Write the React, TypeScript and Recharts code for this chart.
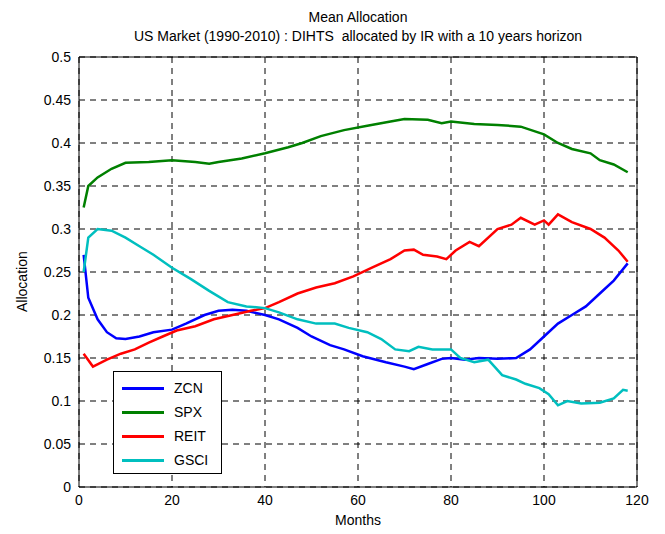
import { LineChart, Line, XAxis, YAxis, CartesianGrid, ReferenceArea } from "recharts";

const spxX = [1, 2, 4, 7, 10, 15, 20, 25, 28, 30, 35, 40, 45, 48, 52, 57, 62, 67, 70, 75, 78, 80, 85, 90, 95, 100, 103, 106, 110, 112, 115, 118];
const spxY = [0.325, 0.35, 0.36, 0.37, 0.377, 0.378, 0.38, 0.378, 0.376, 0.378, 0.382, 0.388, 0.395, 0.4, 0.408, 0.415, 0.42, 0.425, 0.428, 0.427, 0.423, 0.425, 0.422, 0.421, 0.419, 0.41, 0.4, 0.393, 0.388, 0.38, 0.375, 0.366];

const zcnX = [1, 2, 4, 6, 8, 10, 13, 16, 20, 23, 27, 30, 33, 36, 40, 43, 47, 50, 54, 57, 61, 66, 70, 72, 75, 78, 80, 83, 86, 90, 94, 97, 100, 103, 106, 109, 112, 115, 118];
const zcnY = [0.27, 0.22, 0.195, 0.18, 0.173, 0.172, 0.175, 0.18, 0.183, 0.19, 0.2, 0.205, 0.206, 0.205, 0.2, 0.195, 0.185, 0.175, 0.165, 0.16, 0.152, 0.145, 0.14, 0.137, 0.143, 0.149, 0.15, 0.148, 0.15, 0.149, 0.15, 0.16, 0.175, 0.19, 0.2, 0.21, 0.225, 0.24, 0.26];

const reitX = [1, 3, 6, 9, 12, 15, 18, 21, 25, 29, 33, 37, 40, 43, 47, 51, 55, 59, 63, 67, 70, 72, 74, 77, 79, 81, 84, 86, 90, 93, 95, 98, 100, 101, 103, 106, 110, 113, 116, 118];
const reitY = [0.155, 0.14, 0.148, 0.155, 0.16, 0.168, 0.175, 0.182, 0.187, 0.195, 0.2, 0.205, 0.208, 0.215, 0.225, 0.232, 0.237, 0.245, 0.255, 0.265, 0.275, 0.276, 0.27, 0.268, 0.265, 0.275, 0.285, 0.28, 0.3, 0.305, 0.313, 0.305, 0.31, 0.305, 0.317, 0.308, 0.3, 0.29, 0.275, 0.262];

const gsciX = [1, 2, 4, 7, 10, 13, 16, 20, 24, 28, 32, 36, 40, 43, 47, 51, 55, 58, 62, 65, 68, 71, 73, 76, 80, 82, 85, 88, 91, 94, 96, 99, 101, 103, 105, 108, 112, 115, 117, 118];
const gsciY = [0.25, 0.29, 0.3, 0.298, 0.29, 0.28, 0.27, 0.255, 0.242, 0.228, 0.215, 0.21, 0.208, 0.203, 0.195, 0.19, 0.19, 0.185, 0.18, 0.172, 0.16, 0.158, 0.163, 0.16, 0.16, 0.15, 0.145, 0.148, 0.13, 0.125, 0.12, 0.115, 0.108, 0.095, 0.1, 0.097, 0.098, 0.103, 0.113, 0.112];

const xTicks = [0, 20, 40, 60, 80, 100, 120];
const yTicks = [0, 0.05, 0.1, 0.15, 0.2, 0.25, 0.3, 0.35, 0.4, 0.45, 0.5];

const series = [
  { name: "ZCN", color: "#0000ff", xs: zcnX, ys: zcnY },
  { name: "SPX", color: "#008000", xs: spxX, ys: spxY },
  { name: "REIT", color: "#ff0000", xs: reitX, ys: reitY },
  { name: "GSCI", color: "#00bfbf", xs: gsciX, ys: gsciY },
];

const font = "'Liberation Sans', Arial, sans-serif";
const tick = { fill: "#000", fontSize: 14, fontFamily: font };

export default function App() {
  return (
    <div style={{ position: "absolute", left: 0, top: 0, width: 665, height: 534, background: "#fff", fontFamily: font }}>
      <div style={{ position: "absolute", left: 79, width: 558, top: 8, textAlign: "center", fontSize: 14, lineHeight: "19px" }}>
        Mean Allocation<br />US Market (1990-2010) : DIHTS&nbsp; allocated by IR with a 10 years horizon
      </div>
      <LineChart width={665} height={534} margin={{ top: 57, right: 28, bottom: 22, left: 39 }}>
        <CartesianGrid stroke="#000" strokeOpacity={1} strokeDasharray="6 5" strokeWidth={1} />
        <XAxis type="number" dataKey="x" domain={[0, 120]} ticks={xTicks} tick={tick} height={25} axisLine={false} tickLine={false} allowDuplicatedCategory={false} />
        <YAxis type="number" domain={[0, 0.5]} ticks={yTicks} tick={tick} width={40} axisLine={false} tickLine={false} />
        <ReferenceArea x1={0} x2={120} y1={0} y2={0.5} fill="none" stroke="#000" strokeWidth={1} fillOpacity={0} />
        {series.map((s) => (
          <Line
            key={s.name}
            data={s.xs.map((x, i) => ({ x, y: s.ys[i] }))}
            dataKey="y"
            stroke={s.color}
            strokeWidth={2.5}
            dot={false}
            type="linear"
            isAnimationActive={false}
          />
        ))}
      </LineChart>
      <div style={{ position: "absolute", left: 14, top: 272, transform: "rotate(-90deg)", transformOrigin: "left top", fontSize: 14, width: 0 }}>
        <div style={{ position: "absolute", left: -40, top: 0 }}>Allocation</div>
      </div>
      <div style={{ position: "absolute", left: 79, width: 558, top: 512, textAlign: "center", fontSize: 14 }}>Months</div>
      <div style={{ position: "absolute", left: 113, top: 371, width: 107, height: 101, border: "1px solid #000", background: "#fff", fontSize: 14 }}>
        {series.map((s, i) => (
          <div key={s.name} style={{ position: "absolute", left: 8, top: 8 + i * 24, display: "flex", alignItems: "center" }}>
            <span style={{ width: 42, height: 3, background: s.color, display: "inline-block", marginRight: 10 }} />
            {s.name}
          </div>
        ))}
      </div>
    </div>
  );
}
